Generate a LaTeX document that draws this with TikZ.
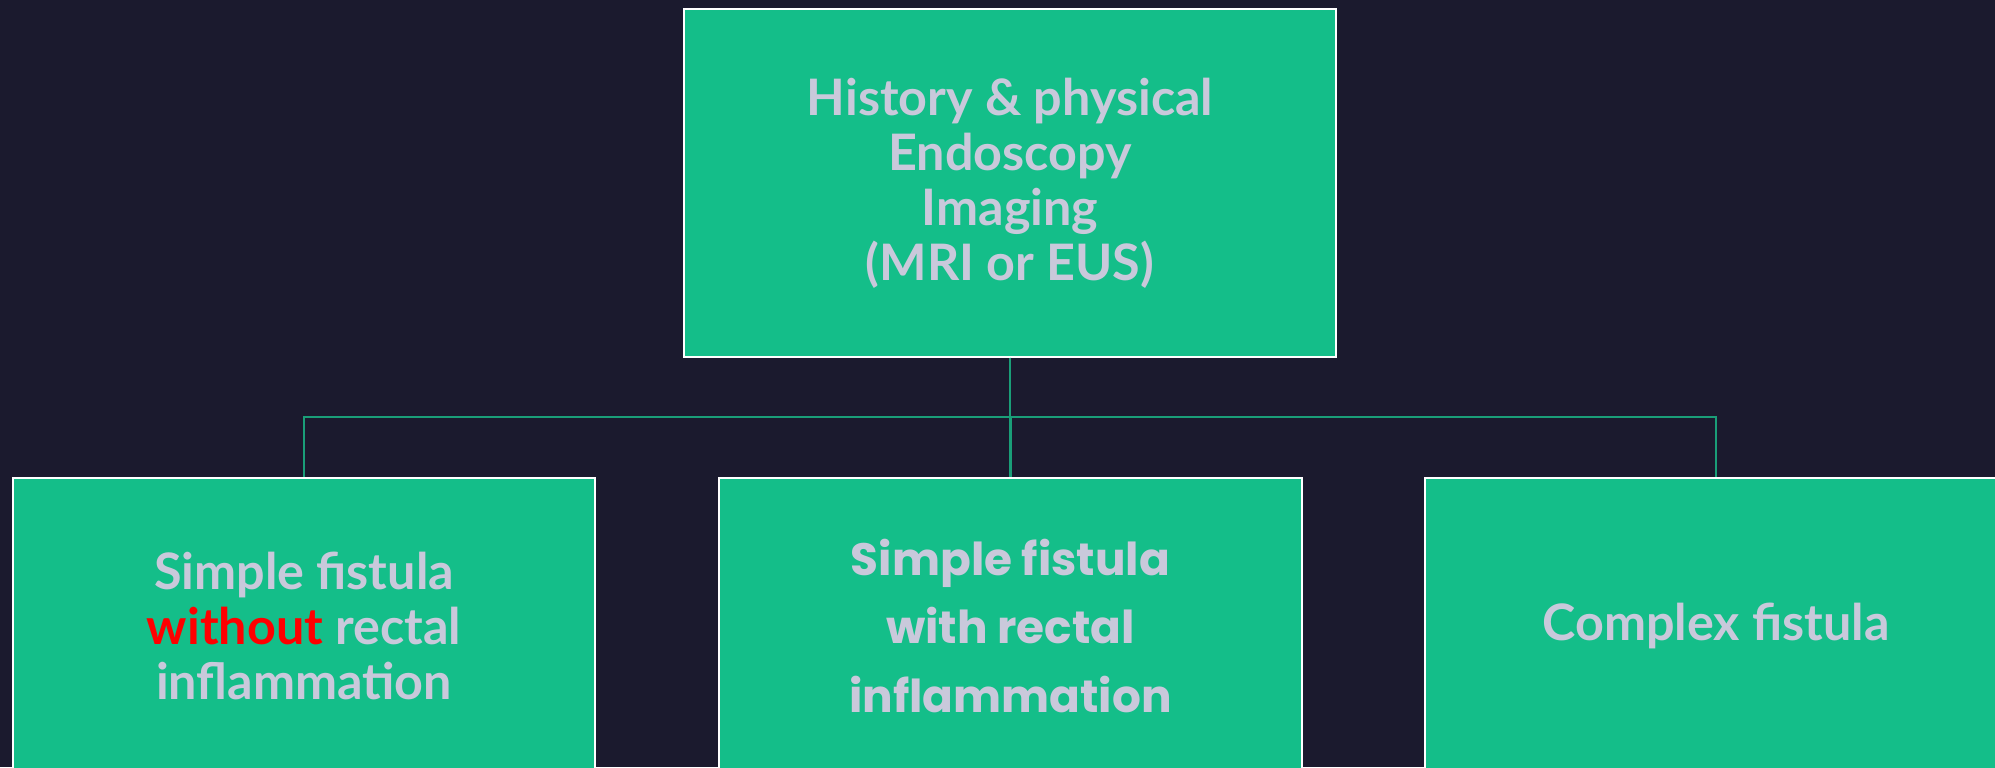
\documentclass[tikz,border=0pt]{standalone}
\usepackage{fontspec}
\usetikzlibrary{calc}
\setmainfont{Lato}
\newfontfamily\comicfont{Poppins}
\definecolor{Night}{HTML}{1B1A2E}
\definecolor{Mint}{HTML}{14BE89}
\definecolor{Haze}{HTML}{C9C9DB}
\definecolor{Wire}{HTML}{1A9E78}
\tikzset{
  stagebox/.style={draw=white,line width=0.6pt,fill=Mint,text=Haze,align=center,
    font=\bfseries\fontsize{14.3}{15.6}\selectfont,
    minimum width=5.82cm,minimum height=2.96cm},
  link/.style={draw=Wire,line width=0.6pt}
}
\newcommand{\Warn}[1]{\textcolor{red}{#1}}

\begin{document}
\begin{tikzpicture}[x=0.01cm,y=-0.01cm]
\fill[Night] (0,0) rectangle (1995,767);
\useasboundingbox (0,0) rectangle (1995,767);
\node[stagebox,minimum width=6.51cm,minimum height=3.47cm] (work) at (1010,183)
  {History \& physical\\Endoscopy\\Imaging\\(MRI or EUS)};
\node[stagebox] (simple) at (304,626) {Simple fistula\\\Warn{without} rectal\\inflammation};
\node[stagebox,font=\comicfont\bfseries\fontsize{12.9}{19.6}\selectfont] (proct) at (1010.5,626)
  {Simple fistula\\ with rectal\\inflammation};
\node[stagebox] (complex) at (1716,626) {Complex fistula};
\foreach \b in {simple,proct,complex} {
  \draw[link] (work.south) |- ($(work.south)!0.5!(\b.north)$) -| (\b.north);
}
\end{tikzpicture}
\end{document}
